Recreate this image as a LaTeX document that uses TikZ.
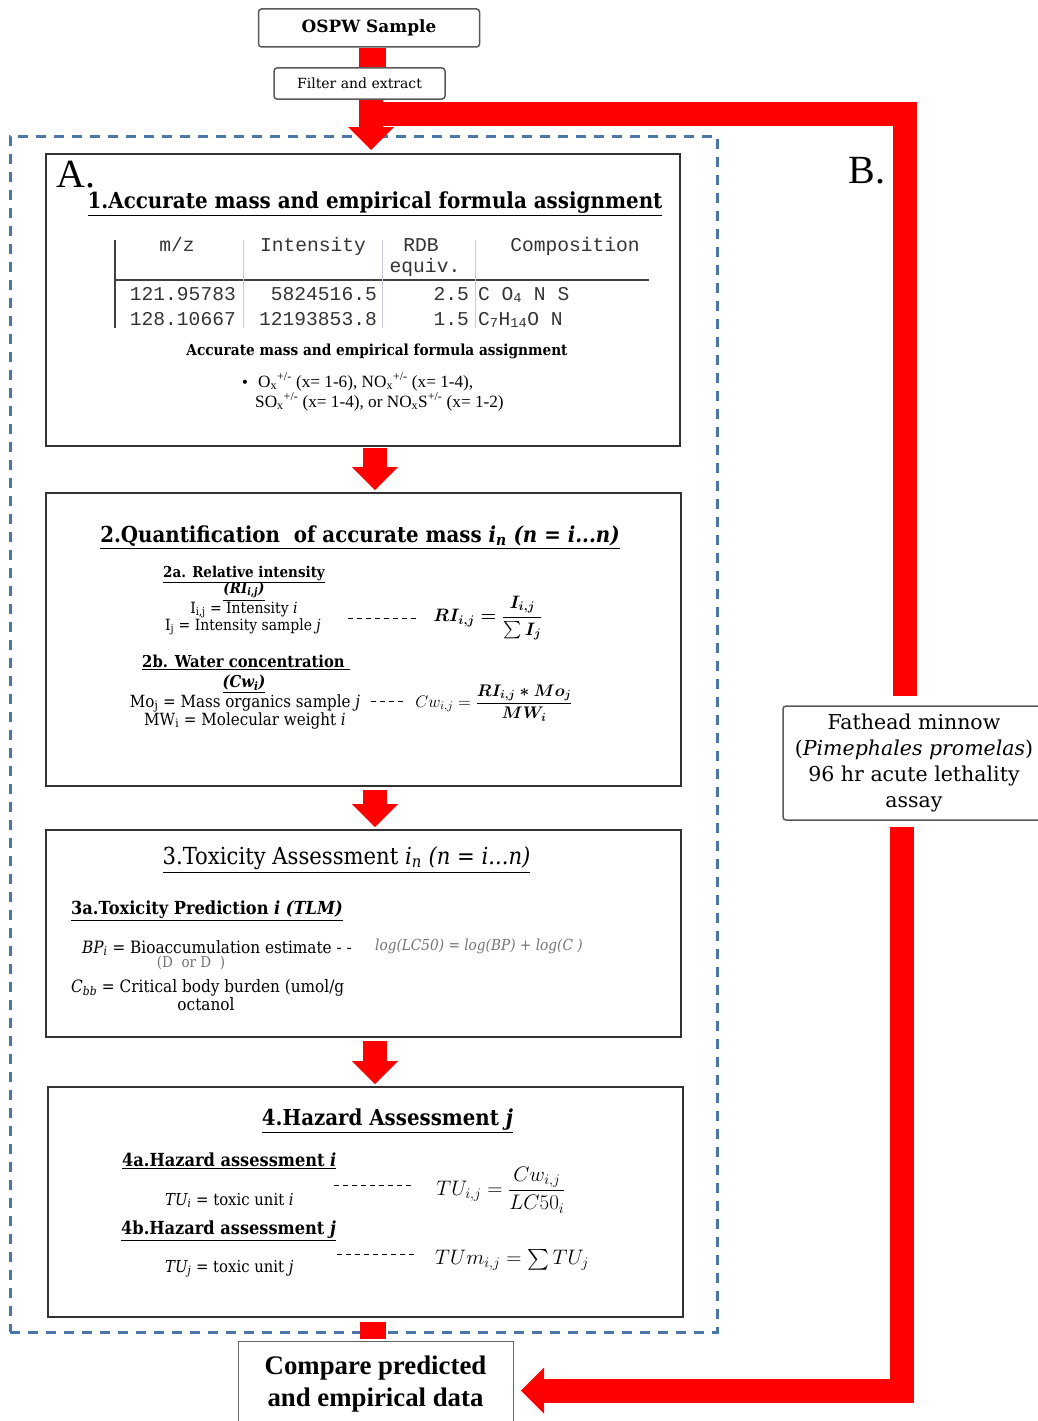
\RequirePackage{fix-cm}
\documentclass[tikz,border=0pt]{standalone}
\usepackage{amsmath}
\usepackage{fontspec}
\setmainfont{DejaVu Serif}
\setmonofont{Liberation Mono}
\newfontfamily\narrowserif[FakeStretch=0.9]{DejaVu Serif}
\newfontfamily\timesfont{Liberation Serif}
\usetikzlibrary{arrows.meta}
\definecolor{panelblue}{RGB}{74,118,168}
\definecolor{gridblue}{RGB}{200,200,222}
\newcommand{\fsz}[1]{\fontsize{#1}{#1}\selectfont}
\tikzset{
  lbl/.style={inner sep=0pt},
  stage/.style={draw=black!80, line width=2pt},
  smallbox/.style={draw=black!65, line width=1.5pt, rounded corners=3pt},
  redbar/.style={draw=red, line width=24pt},
  redarrow/.style={redbar, -{Triangle[length=23pt,width=46pt,line width=0pt]}},
  dashlink/.style={draw=black, line width=1pt, dash pattern=on 5pt off 4pt},
}
\begin{document}
\begin{tikzpicture}[x=1pt,y=-1pt]
\useasboundingbox (0,0) rectangle (1038,1421);

% frame of part A
\node[draw=panelblue, line width=3pt, dash pattern=on 10pt off 8pt, minimum width=707pt, minimum height=1196pt] (panelA) at (363.5,734) {};

% boxes
\node[smallbox, minimum width=221pt, minimum height=38pt, font=\bfseries\fsz{16.9}] (ospw) at (369,28) {OSPW Sample};
\node[smallbox, minimum width=171pt, minimum height=31pt, font=\fsz{14}] (filt) at (359.5,83.5) {Filter and extract};
\node[stage, minimum width=634pt, minimum height=292pt] (acc) at (363,300) {};
\node[stage, minimum width=635pt, minimum height=293pt] (quant) at (363.5,639.5) {};
\node[stage, minimum width=635pt, minimum height=207pt] (tox) at (363.5,933.5) {};
\node[stage, minimum width=635pt, minimum height=230pt] (haz) at (365.5,1202) {};
\node[smallbox, minimum width=262pt, minimum height=114pt, align=center, font=\fontsize{20.5}{25.7}\selectfont] (minnow) at (914,763) {Fathead minnow\\(\textit{Pimephales promelas})\\96 hr acute lethality\\assay};
\node[draw=black!60, line width=1pt, minimum width=275pt, minimum height=86pt, align=center, font=\timesfont\bfseries\fontsize{26.8}{32}\selectfont] (cmp) at (375.5,1384) {Compare predicted\\and empirical data};

% red connectors
\coordinate (midaxis) at (372.5,0);
\coordinate (topaxis) at (371,0);
\coordinate (stepaxis) at (375,0);
\coordinate (lowaxis) at (373,0);
\coordinate (bendB) at (905,113.5);
\coordinate (bendC) at (902,1390.5);
\draw[redbar, line width=27pt] (ospw.south -| midaxis) -- (filt.north -| midaxis);
\draw[redbar, line join=miter, shorten >=9pt] (topaxis |- bendB) -- (bendB) -- (minnow.north -| bendB);
\draw[redarrow, shorten >=3pt] (filt.south -| topaxis) -- (acc.north -| topaxis);
\draw[redarrow, line join=miter, shorten <=6pt, shorten >=7.5pt] (minnow.south -| bendC) -- (bendC) -- (cmp.east |- bendC);
\draw[redarrow, shorten <=1pt, shorten >=2pt] (acc.south -| stepaxis) -- (quant.north -| stepaxis);
\draw[redarrow, shorten <=3pt, shorten >=2pt] (quant.south -| stepaxis) -- (tox.north -| stepaxis);
\draw[redarrow, shorten <=3pt, shorten >=2pt] (tox.south -| stepaxis) -- (haz.north -| stepaxis);
\draw[redbar, line width=26pt, shorten <=4pt, shorten >=2pt] (haz.south -| lowaxis) -- (cmp.north -| lowaxis);

\node[lbl, font=\timesfont\fsz{40}] (labA) at (76,175) {A.};
\node[lbl, font=\timesfont\fsz{40}] (labB) at (867,171) {B.};

% 1. accurate mass
\node[lbl, anchor=base, font=\narrowserif\bfseries\fsz{22.1}] (t1) at (375,208) {\underline{1.Accurate mass and empirical formula assignment}};
\draw[black!75, line width=1.5pt] (115,240) -- (115,328);
\draw[black!75, line width=1.5pt] (115,280) -- (649,280);
\draw[gridblue, line width=1pt] (243,240) -- (243,328) (382.5,240) -- (382.5,328) (475,240) -- (475,328);
\begin{scope}[every node/.style={lbl, text=black!80, font=\ttfamily\fsz{19.6}}]
\node[anchor=base] (hmz) at (177,251) {m/z};
\node[anchor=base] (hint) at (313,251) {Intensity};
\node[anchor=base] (hrdb) at (421,251) {RDB};
\node[anchor=base] (hequ) at (425,272) {equiv.};
\node[anchor=base] (hcomp) at (575,251) {Composition};
\node[anchor=base east] (mzA) at (236,300) {121.95783};
\node[anchor=base east] (intA) at (377,300) {5824516.5};
\node[anchor=base east] (rdbA) at (469,300) {2.5};
\node[anchor=base west] (compA) at (478,300) {C O\textsubscript{4} N S};
\node[anchor=base east] (mzB) at (236,325) {128.10667};
\node[anchor=base east] (intB) at (377,325) {12193853.8};
\node[anchor=base east] (rdbB) at (469,325) {1.5};
\node[anchor=base west] (compB) at (478,325) {C\textsubscript{7}H\textsubscript{14}O N};
\end{scope}
\node[lbl, anchor=base, font=\narrowserif\bfseries\fsz{15.2}] (cap1) at (377,355) {Accurate mass and empirical formula assignment};
\node[lbl, anchor=base, font=\fsz{14}] (bul) at (245,387) {\textbullet};
\node[lbl, anchor=base west, font=\timesfont\fsz{17.2}] (ionsA) at (258,387) {O\textsubscript{x}\textsuperscript{+/-} (x= 1-6), NO\textsubscript{x}\textsuperscript{+/-} (x= 1-4),};
\node[lbl, anchor=base west, font=\timesfont\fsz{17.2}] (ionsB) at (255,407) {SO\textsubscript{x}\textsuperscript{+/-} (x= 1-4), or NO\textsubscript{x}S\textsuperscript{+/-} (x= 1-2)};

% 2. quantification
\node[lbl, anchor=base, font=\narrowserif\bfseries\fsz{22}] (t2) at (360,542) {\underline{2.Quantification \ of accurate mass \textit{i\textsubscript{n} (n = i...n)}}};
\node[lbl, anchor=base, font=\narrowserif\bfseries\fsz{15}] (s2a) at (244,577) {\underline{2a. Relative intensity}};
\node[lbl, anchor=base, font=\narrowserif\bfseries\itshape\fsz{15}] (s2ai) at (244,593) {\underline{(RI\textsubscript{i,j})}};
\node[lbl, anchor=base, font=\narrowserif\fsz{15.5}] (d2a1) at (244,613) {I\textsubscript{i,j} = Intensity \textit{i}};
\node[lbl, anchor=base, font=\narrowserif\fsz{15.5}] (d2a2) at (243,630) {I\textsubscript{j} = Intensity sample \textit{j}};
\node[lbl, anchor=base, font=\narrowserif\bfseries\fsz{16.4}] (s2b) at (246,667) {\underline{2b. Water concentration\ }};
\node[lbl, anchor=base, font=\narrowserif\bfseries\itshape\fsz{16.4}] (s2bi) at (244,687) {\underline{(Cw\textsubscript{i})}};
\node[lbl, anchor=base, font=\narrowserif\fsz{16.8}] (d2b1) at (245,707) {Mo\textsubscript{j} = Mass organics sample \textit{j}};
\node[lbl, anchor=base, font=\narrowserif\fsz{16.8}] (d2b2) at (245,725) {MW\textsubscript{i} = Molecular weight \textit{i}};
\node[lbl, font=\fsz{18}] (eqRI) at (488,618) {$\boldsymbol{RI_{i,j} = \dfrac{I_{i,j}}{\sum I_j}}$};
\node[lbl, font=\fsz{16.8}] (eqCw) at (494,703) {$Cw_{i,j} = \dfrac{\boldsymbol{RI_{i,j} * Mo_j}}{\boldsymbol{MW_i}}$};
\coordinate (r2a) at (348,618);
\coordinate (r2b) at (371,701);
\draw[dashlink] (r2a) -- (r2a -| 419,0);
\draw[dashlink] (r2b) -- (r2b -| 406,0);

% 3. toxicity
\node[lbl, anchor=base, font=\narrowserif\fsz{23.5}] (t3) at (346.5,864) {\underline{3.Toxicity Assessment \textit{i\textsubscript{n} (n = i...n)}}};
\node[lbl, anchor=base west, font=\narrowserif\bfseries\fsz{18}] (s3a) at (71,914) {\underline{3a.Toxicity Prediction \textit{i (TLM)}}};
\node[lbl, anchor=base west, font=\narrowserif\fsz{17}] (d3a1) at (82,953) {\textit{BP\textsubscript{i}} = Bioaccumulation estimate - -};
\node[lbl, anchor=base, text=black!55, font=\narrowserif\fsz{15}] (d3ad) at (191,967) {(D \ or D \ )};
\node[lbl, anchor=base west, font=\narrowserif\fsz{17}] (d3a2) at (71,992) {\textit{C\textsubscript{bb}} = Critical body burden (umol/g};
\node[lbl, anchor=base, font=\narrowserif\fsz{17}] (d3a3) at (206,1010) {octanol};
\node[lbl, anchor=base west, text=black!55, font=\narrowserif\itshape\fsz{15.2}] (eqLC) at (375,950) {log(LC50) = log(BP) + log(C )};

% 4. hazard
\node[lbl, anchor=base, font=\narrowserif\bfseries\fsz{22}] (t4) at (387.5,1125) {\underline{4.Hazard Assessment \textit{j}}};
\node[lbl, anchor=base west, font=\narrowserif\bfseries\fsz{18}] (s4a) at (122,1166) {\underline{4a.Hazard assessment \textit{i}}};
\node[lbl, anchor=base west, font=\narrowserif\fsz{16.5}] (d4a) at (165,1205) {\textit{TU\textsubscript{i}} = toxic unit \textit{i}};
\node[lbl, anchor=base west, font=\narrowserif\bfseries\fsz{18}] (s4b) at (121,1234) {\underline{4b.Hazard assessment \textit{j}}};
\node[lbl, anchor=base west, font=\narrowserif\fsz{16.5}] (d4b) at (165,1272) {\textit{TU\textsubscript{j}} = toxic unit \textit{j}};
\node[lbl, font=\fsz{21}] (eqTU) at (501,1190) {$TU_{i,j} = \dfrac{Cw_{i,j}}{LC50_i}$};
\node[lbl, font=\fsz{21}] (eqTUm) at (512,1260) {$TUm_{i,j} = \sum TU_j$};
\coordinate (r4a) at (334,1185);
\coordinate (r4b) at (337,1254);
\draw[dashlink] (r4a) -- (r4a -| 413,0);
\draw[dashlink] (r4b) -- (r4b -| 417,0);
\end{tikzpicture}
\end{document}
